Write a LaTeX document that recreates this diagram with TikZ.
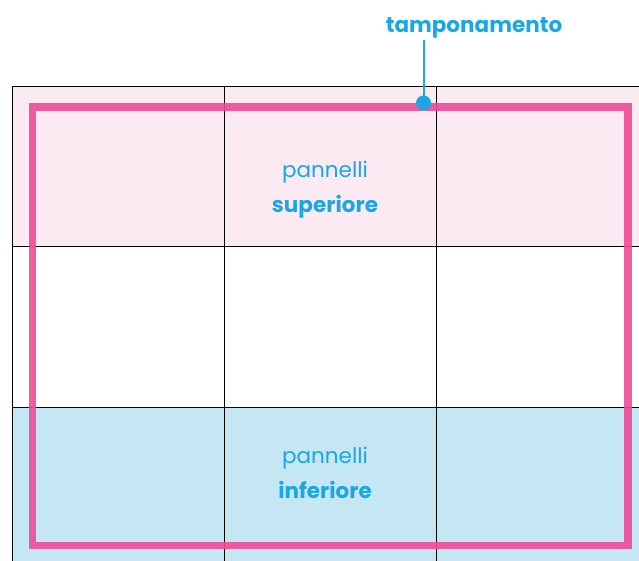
\documentclass[tikz,border=0pt]{standalone}
\usepackage{fontspec}
\setmainfont{Poppins}
\definecolor{cyantext}{HTML}{1AA7E4}
\definecolor{pinkfill}{HTML}{FBEAF2}
\definecolor{bluefill}{HTML}{C5E7F3}
\definecolor{magline}{HTML}{EE4B97}
\begin{document}
\begin{tikzpicture}[x=1pt,y=-1pt,
  gridline/.style={black,line width=0.8pt},
  frame/.style={magline,line width=7.5pt,opacity=0.9},
  lbl/.style={text=cyantext,font=\fontsize{21.5}{35}\selectfont,align=center,inner sep=0pt}]
\useasboundingbox (0,0) rectangle (639,561);
\fill[pinkfill] (12,86) rectangle (639,246);
\fill[bluefill] (12,407) rectangle (639,561);
\draw[gridline] (12,561) -- (12,86) -- (639,86);
\draw[gridline] (12,246) -- (639,246);
\draw[gridline] (12,407) -- (639,407);
\draw[gridline] (224,86) -- (224,561);
\draw[gridline] (436,86) -- (436,561);
\draw[frame] (32.5,107) rectangle (628,545.5);
\node[lbl] (sup) at (325,190) {pannelli\\\textbf{superiore}};
\node[lbl] (inf) at (325,473) {pannelli\\\textbf{inferiore}};
\node[lbl] (tamp) at (474,28) {\textbf{tamponamento}};
\coordinate (dot) at (423.5,103);
\draw[cyantext,line width=2pt] (tamp.south -| dot) ++(0,1) -- (dot);
\fill[cyantext] (dot) circle (7.5);
\end{tikzpicture}
\end{document}
